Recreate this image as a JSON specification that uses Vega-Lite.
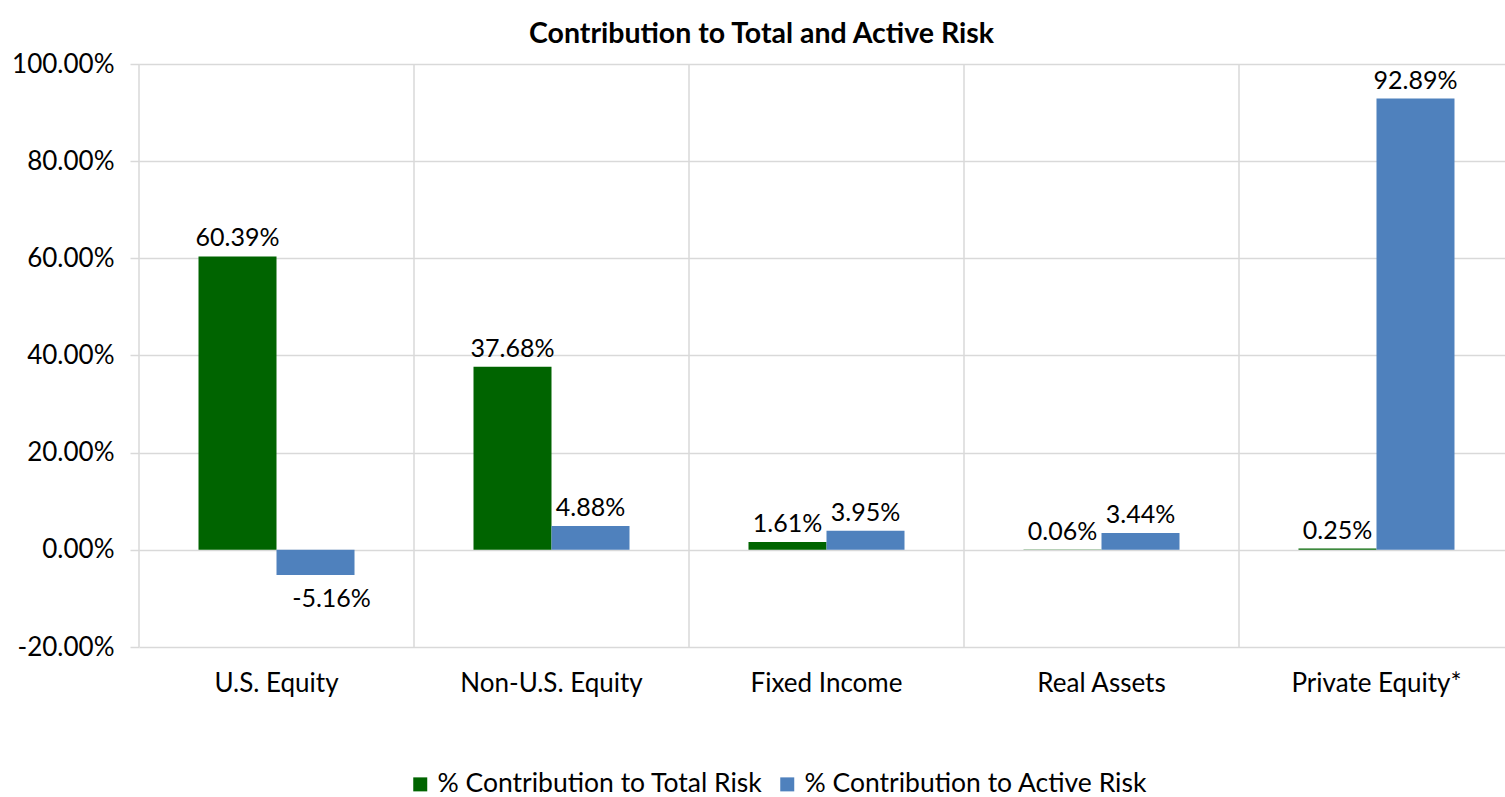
{
  "$schema": "https://vega.github.io/schema/vega-lite/v6.json",
  "width": 1375,
  "height": 583,
  "autosize": {"type": "none"},
  "padding": {"left": 139, "top": 64, "right": 0, "bottom": 150},
  "background": "white",
  "config": {
    "font": "Lato",
    "view": {"stroke": null},
    "locale": {"number": {"decimal": ".", "thousands": ",", "grouping": [3], "currency": ["$", ""], "minus": "-"}}
  },
  "title": {
    "text": "Contribution to Total and Active Risk",
    "fontSize": 28.5,
    "fontWeight": "bold",
    "color": "#000000",
    "anchor": "middle",
    "dx": -65,
    "offset": 3
  },
  "datasets": {
    "bars": [
      {"category": "U.S. Equity", "series": "% Contribution to Total Risk", "value": 0.6039},
      {"category": "U.S. Equity", "series": "% Contribution to Active Risk", "value": -0.0516},
      {"category": "Non-U.S. Equity", "series": "% Contribution to Total Risk", "value": 0.3768},
      {"category": "Non-U.S. Equity", "series": "% Contribution to Active Risk", "value": 0.0488},
      {"category": "Fixed Income", "series": "% Contribution to Total Risk", "value": 0.0161},
      {"category": "Fixed Income", "series": "% Contribution to Active Risk", "value": 0.0395},
      {"category": "Real Assets", "series": "% Contribution to Total Risk", "value": 0.0006},
      {"category": "Real Assets", "series": "% Contribution to Active Risk", "value": 0.0344},
      {"category": "Private Equity*", "series": "% Contribution to Total Risk", "value": 0.0025},
      {"category": "Private Equity*", "series": "% Contribution to Active Risk", "value": 0.9289}
    ],
    "cats": [
      {"category": "U.S. Equity"},
      {"category": "Non-U.S. Equity"},
      {"category": "Fixed Income"},
      {"category": "Real Assets"},
      {"category": "Private Equity*"}
    ]
  },
  "resolve": {"scale": {"x": "independent"}},
  "layer": [
    {
      "data": {"name": "cats"},
      "mark": {"type": "rule", "color": "#d9d9d9", "strokeWidth": 1.5},
      "encoding": {
        "x": {
          "field": "category",
          "type": "nominal",
          "sort": ["U.S. Equity", "Non-U.S. Equity", "Fixed Income", "Real Assets", "Private Equity*"],
          "bandPosition": 0,
          "scale": {"paddingInner": 0, "paddingOuter": 0},
          "axis": null
        }
      }
    },
    {
      "data": {"name": "bars"},
      "encoding": {
        "x": {
          "field": "category",
          "type": "nominal",
          "sort": ["U.S. Equity", "Non-U.S. Equity", "Fixed Income", "Real Assets", "Private Equity*"],
          "scale": {"paddingInner": 0.4327, "paddingOuter": 0.2164},
          "axis": {
            "title": null,
            "labelAngle": 0,
            "ticks": false,
            "domain": false,
            "grid": false,
            "labelFontSize": 26,
            "labelLimit": 300,
            "labelColor": "#000000",
            "labelPadding": 23
          }
        },
        "xOffset": {
          "field": "series",
          "type": "nominal",
          "sort": ["% Contribution to Total Risk", "% Contribution to Active Risk"]
        },
        "y": {
          "field": "value",
          "type": "quantitative",
          "scale": {"domain": [-0.2, 1.0], "nice": false, "zero": false},
          "axis": {
            "title": null,
            "format": ".2%",
            "values": [-0.2, 0, 0.2, 0.4, 0.6, 0.8, 1.0],
            "domain": false,
            "grid": true,
            "gridColor": "#d9d9d9",
            "gridWidth": 1.5,
            "tickColor": "#d9d9d9",
            "tickWidth": 1.5,
            "tickSize": 9,
            "labelFontSize": 26,
            "labelColor": "#000000",
            "labelPadding": 16
          }
        }
      },
      "layer": [
        {
          "mark": {"type": "bar"},
          "encoding": {
            "color": {
              "field": "series",
              "type": "nominal",
              "scale": {
                "domain": ["% Contribution to Total Risk", "% Contribution to Active Risk"],
                "range": ["#006400", "#4f81bd"]
              },
              "legend": {
                "orient": "none",
                "legendX": 268,
                "legendY": 707,
                "direction": "horizontal",
                "title": null,
                "symbolType": "square",
                "symbolSize": 196,
                "symbolStrokeWidth": 0,
                "labelFontSize": 26.5,
                "labelLimit": 500,
                "labelColor": "#000000",
                "columnPadding": 11
              }
            }
          }
        },
        {
          "transform": [{"filter": "datum.value >= 0"}],
          "mark": {"type": "text", "baseline": "alphabetic", "dy": -10, "fontSize": 25, "color": "#000000"},
          "encoding": {"text": {"field": "value", "type": "quantitative", "format": ".2%"}}
        },
        {
          "transform": [{"filter": "datum.value < 0"}],
          "mark": {"type": "text", "baseline": "top", "dy": 12, "dx": 16, "fontSize": 25, "color": "#000000"},
          "encoding": {"text": {"field": "value", "type": "quantitative", "format": ".2%"}}
        }
      ]
    }
  ]
}
